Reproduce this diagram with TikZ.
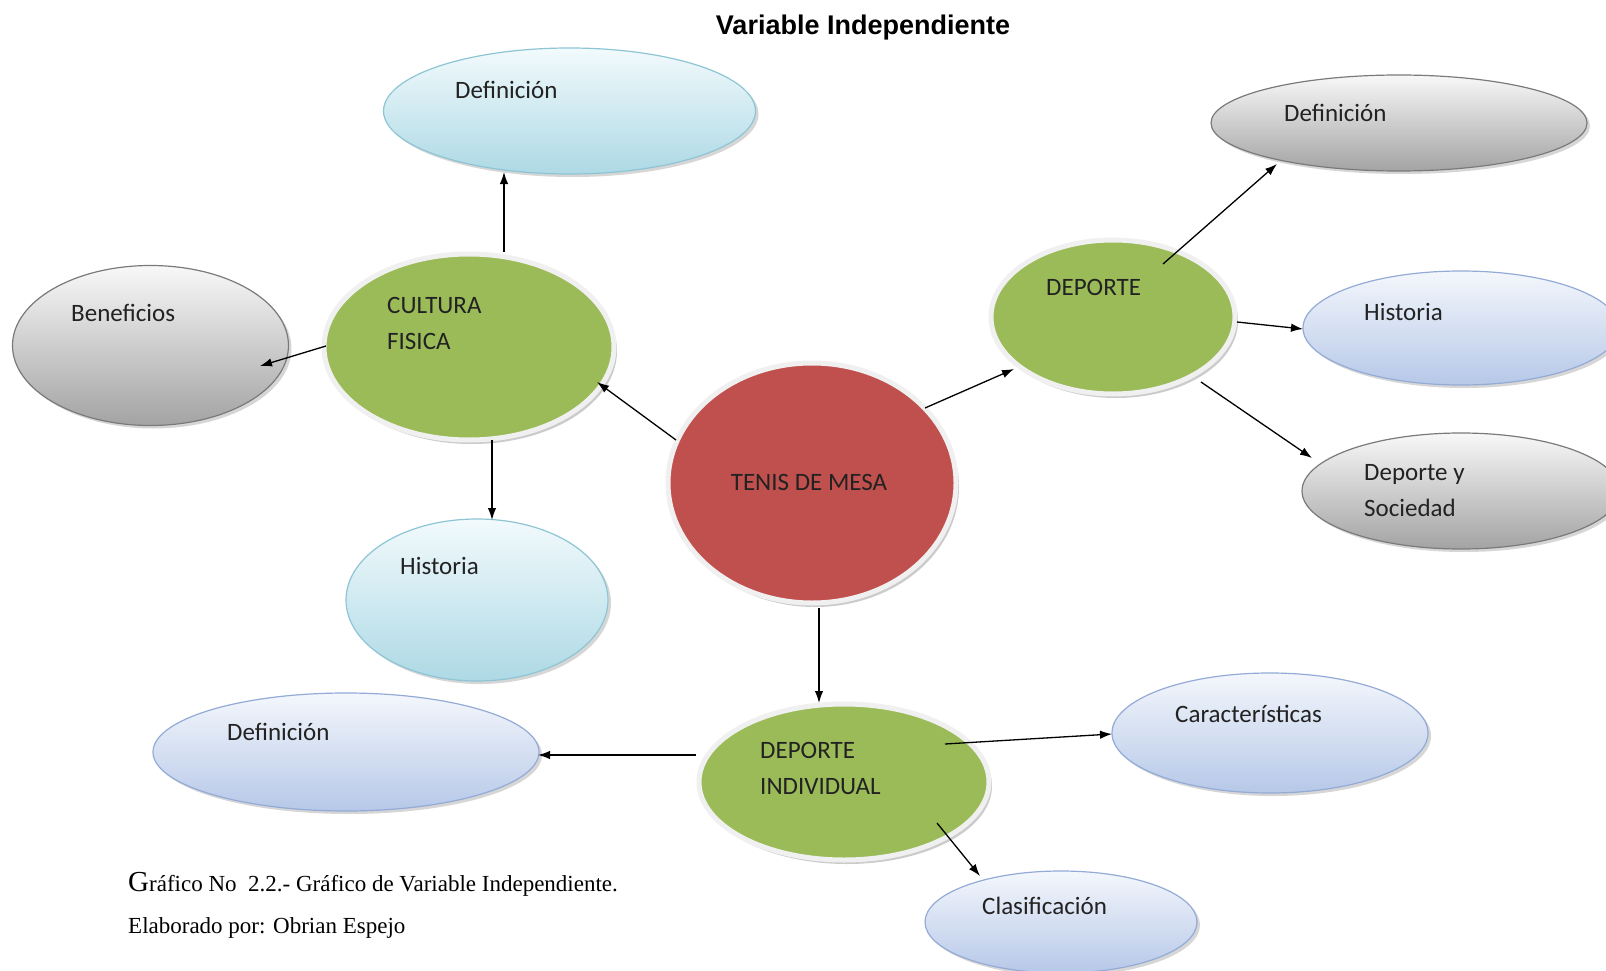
\documentclass[tikz,border=0pt]{standalone}
\usepackage{fontspec}
\setmainfont{Carlito}
\newfontfamily\titlefont{Liberation Sans}
\newfontfamily\capfont{Liberation Serif}
\usetikzlibrary{arrows.meta,shadows,shapes.geometric}
\definecolor{cyanTop}{HTML}{F2FAFC}
\definecolor{cyanBot}{HTML}{ADD9E5}
\definecolor{cyanLine}{HTML}{8EC5D5}
\definecolor{lavTop}{HTML}{F4F7FC}
\definecolor{lavBot}{HTML}{B6C8E8}
\definecolor{lavLine}{HTML}{93ABD6}
\definecolor{grayTop}{HTML}{F8F8F8}
\definecolor{grayBot}{HTML}{A3A3A3}
\definecolor{grayLine}{HTML}{7A7A7A}
\definecolor{oliveG}{HTML}{9BBB59}
\definecolor{redR}{HTML}{C0504D}
\definecolor{txt}{HTML}{222222}
\tikzset{
  ell/.style={ellipse, inner sep=0pt, line width=1.2pt,
    drop shadow={shadow xshift=3pt, shadow yshift=-3pt, fill=black!35, opacity=0.45}},
  cyanE/.style={ell, draw=cyanLine, top color=cyanTop, bottom color=cyanBot},
  lavE/.style={ell, draw=lavLine, top color=lavTop, bottom color=lavBot},
  grayE/.style={ell, draw=grayLine, top color=grayTop, bottom color=grayBot},
  ringE/.style={ellipse, inner sep=0pt, draw=black!6, line width=5pt,
    drop shadow={shadow xshift=3pt, shadow yshift=-4pt, fill=black!40, opacity=0.5}},
  greenE/.style={ringE, fill=oliveG},
  redE/.style={ringE, fill=redR},
  lbl/.style={anchor=west, inner sep=0pt, text=txt, align=left,
    font=\fontsize{25}{36}\selectfont},
  arr/.style={-{Latex[length=12pt,width=8.5pt]}, line width=1.3pt, black},
}
\begin{document}
\begin{tikzpicture}[x=1pt,y=-1pt]
\useasboundingbox (0,0) rectangle (1606,971);
\fill[white] (0,0) rectangle (1606,971);

% ellipses
\node[cyanE, minimum width=372pt, minimum height=126pt] (def1) at (569.5,111) {};
\node[grayE, minimum width=276pt, minimum height=160pt] (ben) at (150.5,345.5) {};
\node[cyanE, minimum width=262pt, minimum height=162pt] (his1) at (477,600) {};
\node[greenE, minimum width=290pt, minimum height=186pt] (cf) at (469,347) {};
\node[redE, minimum width=288pt, minimum height=240pt] (tm) at (812,483) {};
\node[greenE, minimum width=244pt, minimum height=154pt] (dep) at (1113,317) {};
\node[grayE, minimum width=376pt, minimum height=96pt] (def2) at (1399,123) {};
\node[lavE, minimum width=316pt, minimum height=114pt] (his2) at (1461,328) {};
\node[grayE, minimum width=318pt, minimum height=116pt] (dys) at (1461,491) {};
\node[greenE, minimum width=290pt, minimum height=156pt] (di) at (844,782) {};
\node[lavE, minimum width=386pt, minimum height=118pt] (def3) at (346,752) {};
\node[lavE, minimum width=316pt, minimum height=120pt] (car) at (1270,733) {};
\node[lavE, minimum width=272pt, minimum height=102pt] (cla) at (1061,922) {};

% labels
\node[lbl] (tdef1) at (455,90) {Definición};
\node[lbl] (tcf) at (387,323) {CULTURA\\FISICA};
\node[lbl] (tben) at (71,313) {Beneficios};
\node[lbl] (this1) at (400,566) {Historia};
\node[lbl, anchor=center] (ttm) at (809,482) {TENIS DE MESA};
\node[lbl] (tdep) at (1046,287) {DEPORTE};
\node[lbl] (tdef2) at (1284,113) {Definición};
\node[lbl] (this2) at (1364,312) {Historia};
\node[lbl] (tdys) at (1364,491) {Deporte y\\Sociedad};
\node[lbl] (tdi) at (760,768) {DEPORTE\\INDIVIDUAL};
\node[lbl] (tdef3) at (227,732) {Definición};
\node[lbl] (tcar) at (1175,714) {Características};
\node[lbl] (tcla) at (982,906) {Clasificación};

% title and caption
\node[inner sep=0pt, font=\titlefont\bfseries\fontsize{27}{32}\selectfont] (title) at (863,28) {Variable Independiente};
\node[anchor=base west, inner sep=0pt, font=\capfont\fontsize{23}{27}\selectfont] (cap1) at (128,891)
  {{\fontsize{29}{31}\selectfont G}ráfico No\ \ 2.2.- Gráfico de Variable Independiente.};
\node[anchor=base west, inner sep=0pt, font=\capfont\fontsize{23}{27}\selectfont] (cap2) at (128,933)
  {Elaborado por: Obrian Espejo};

% connector end points
\coordinate (a1s) at (504,252); \coordinate (a1e) at (504,172);
\coordinate (a2s) at (326,346); \coordinate (a2e) at (260,366);
\coordinate (a3s) at (492,440); \coordinate (a3e) at (492,520);
\coordinate (a4s) at (676,440); \coordinate (a4e) at (597,382);
\coordinate (a5s) at (925,408); \coordinate (a5e) at (1014,369);
\coordinate (a6s) at (1163,264); \coordinate (a6e) at (1277,164);
\coordinate (a7s) at (1237,322); \coordinate (a7e) at (1303,329);
\coordinate (a8s) at (1201,382); \coordinate (a8e) at (1312,458);
\coordinate (a9s) at (819,608); \coordinate (a9e) at (819,703);
\coordinate (a10s) at (696,755); \coordinate (a10e) at (538,755);
\coordinate (a11s) at (945,744); \coordinate (a11e) at (1112,734);
\coordinate (a12s) at (937,823); \coordinate (a12e) at (980,876);

\draw[arr] (a1s) -- (a1e);
\draw[arr] (a2s) -- (a2e);
\draw[arr] (a3s) -- (a3e);
\draw[arr] (a4s) -- (a4e);
\draw[arr] (a5s) -- (a5e);
\draw[arr] (a6s) -- (a6e);
\draw[arr] (a7s) -- (a7e);
\draw[arr] (a8s) -- (a8e);
\draw[arr] (a9s) -- (a9e);
\draw[arr] (a10s) -- (a10e);
\draw[arr] (a11s) -- (a11e);
\draw[arr] (a12s) -- (a12e);
\end{tikzpicture}
\end{document}
